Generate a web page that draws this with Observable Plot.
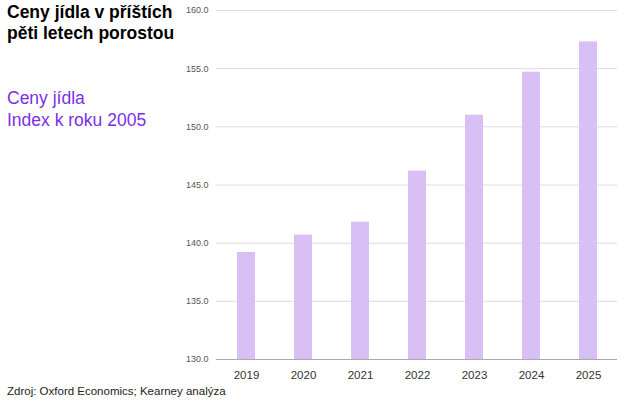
<!DOCTYPE html>
<html>
<head>
<meta charset="utf-8">
<script src="https://cdn.jsdelivr.net/npm/d3@7"></script>
<script src="https://cdn.jsdelivr.net/npm/@observablehq/plot@0.6"></script>
<style>
  html, body { margin: 0; padding: 0; background: #fff; }
  #wrap { position: relative; width: 634px; height: 414px; font-family: "Liberation Sans", Arial, sans-serif; }
  #title { position: absolute; left: 7px; top: 2px; font-size: 17.5px; font-weight: bold; line-height: 21px; color: #000; }
  #subtitle { position: absolute; left: 7px; top: 87px; font-size: 17.5px; line-height: 22px; color: #7b2fe6; }
  #caption { position: absolute; left: 7px; top: 385px; font-size: 11.5px; color: #222; }
  #chart { position: absolute; left: 0; top: 0; }
</style>
</head>
<body>
<div id="wrap">
  <div id="chart"></div>
  <div id="title">Ceny jídla v příštích<br>pěti letech porostou</div>
  <div id="subtitle">Ceny jídla<br>Index k roku 2005</div>
  <div id="caption">Zdroj: Oxford Economics; Kearney analýza</div>
</div>
<script>
const years = ["2019", "2020", "2021", "2022", "2023", "2024", "2025"];
const values = [139.2, 140.7, 141.8, 146.2, 151.0, 154.7, 157.3];
const yTicks = [130, 135, 140, 145, 150, 155, 160];

const data = years.map((y, i) => ({year: y, value: values[i]}));

const chart = Plot.plot({
  width: 634,
  height: 414,
  marginLeft: 216,
  marginRight: 17,
  marginTop: 10,
  marginBottom: 55,
  style: {fontFamily: "'Liberation Sans', Arial, sans-serif", background: "transparent"},
  x: {domain: years, paddingInner: 0.685, paddingOuter: 0.3425, label: null},
  y: {domain: [130, 160], label: null},
  marks: [
    Plot.gridY(yTicks, {stroke: "#dcdcdc", strokeOpacity: 1}),
    Plot.barY(data, {x: "year", y1: 130, y2: "value", fill: "#d8bff4"}),
    Plot.ruleY([130], {stroke: "#aaaaaa", strokeWidth: 1}),
    Plot.axisY(yTicks, {tickSize: 0, tickPadding: 8, tickFormat: d3.format(".1f"), fontSize: 9, fill: "#555", label: null}),
    Plot.axisX({tickSize: 0, tickPadding: 11, fontSize: 11.5, fill: "#333", label: null})
  ]
});
document.getElementById("chart").appendChild(chart);
</script>
</body>
</html>
